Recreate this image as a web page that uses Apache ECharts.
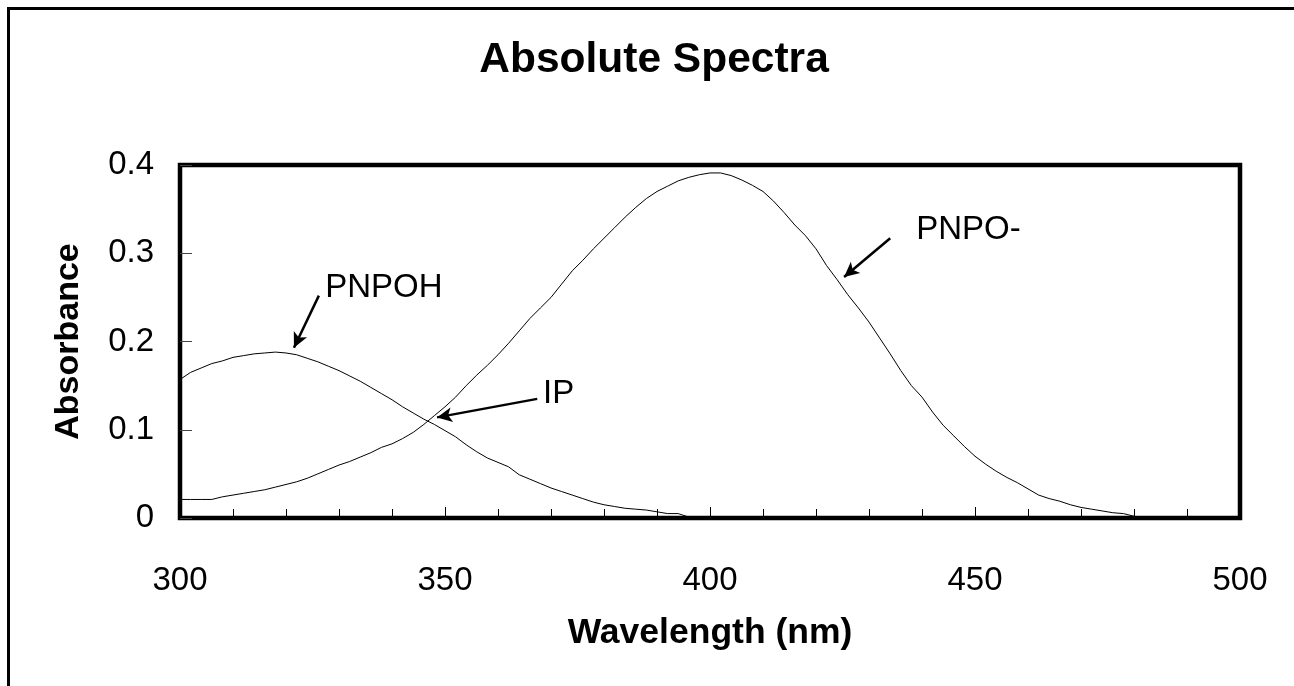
<!DOCTYPE html>
<html>
<head>
<meta charset="utf-8">
<title>Absolute Spectra</title>
<script src="https://cdn.jsdelivr.net/npm/echarts@6/dist/echarts.min.js"></script>
<style>
  html, body { margin: 0; padding: 0; background: #fff; }
  #chart { width: 1294px; height: 686px; }
</style>
</head>
<body>
<div id="chart"></div>
<script>
// Wavelength grid (nm), sampled every 2 nm from 300 to 500
const wavelength = Array.from({ length: 101 }, (_, i) => 300 + 2 * i);

// Absorbance of the protonated form (PNPOH)
const pnpoh = [
  0.157, 0.165, 0.170, 0.175, 0.178, 0.182, 0.184, 0.186, 0.187, 0.188, // 300-318
  0.187, 0.185, 0.181, 0.177, 0.172, 0.167, 0.161, 0.155, 0.148, 0.141, // 320-338
  0.134, 0.126, 0.119, 0.112, 0.106, 0.099, 0.092, 0.083, 0.075, 0.068, // 340-358
  0.063, 0.058, 0.049, 0.044, 0.039, 0.034, 0.030, 0.026, 0.022, 0.018, // 360-378
  0.015, 0.013, 0.011, 0.010, 0.009, 0.007, 0.005, 0.005, 0.001, 0,     // 380-398
  0, 0, 0, 0, 0, 0, 0, 0, 0, 0,                                         // 400-418
  0, 0, 0, 0, 0, 0, 0, 0, 0, 0,                                         // 420-438
  0, 0, 0, 0, 0, 0, 0, 0, 0, 0,                                         // 440-458
  0, 0, 0, 0, 0, 0, 0, 0, 0, 0,                                         // 460-478
  0, 0, 0, 0, 0, 0, 0, 0, 0, 0,                                         // 480-498
  0                                                                     // 500
];

// Absorbance of the deprotonated form (PNPO-)
const pnpoMinus = [
  0.021, 0.021, 0.021, 0.021, 0.024, 0.026, 0.028, 0.030, 0.032, 0.035, // 300-318
  0.038, 0.041, 0.045, 0.050, 0.055, 0.060, 0.064, 0.069, 0.074, 0.080, // 320-338
  0.084, 0.090, 0.097, 0.106, 0.116, 0.126, 0.137, 0.150, 0.162, 0.173, // 340-358
  0.185, 0.198, 0.212, 0.226, 0.238, 0.250, 0.265, 0.280, 0.292, 0.305, // 360-378
  0.317, 0.329, 0.341, 0.352, 0.362, 0.370, 0.376, 0.382, 0.386, 0.389, // 380-398
  0.391, 0.391, 0.388, 0.383, 0.377, 0.370, 0.359, 0.346, 0.332, 0.320, // 400-418
  0.305, 0.286, 0.270, 0.253, 0.238, 0.222, 0.204, 0.186, 0.167, 0.150, // 420-438
  0.137, 0.120, 0.105, 0.093, 0.081, 0.070, 0.061, 0.053, 0.046, 0.040, // 440-458
  0.033, 0.026, 0.022, 0.019, 0.015, 0.012, 0.010, 0.008, 0.006, 0.005, // 460-478
  0.002, 0, 0, 0, 0, 0, 0, 0, 0, 0,                                     // 480-498
  0                                                                     // 500
];

// Callout labels and their arrows, in data units [nm, absorbance]
const noteText = ['PNPOH', 'IP', 'PNPO-'];
const noteAt = [[327.4, 0.2605], [368.5, 0.141], [438.9, 0.327]];
const arrowFrom = [[326.2, 0.252], [367.4, 0.135], [434.0, 0.317]];
const arrowTo = [[321.5, 0.193], [348.5, 0.114], [425.3, 0.273]];

// Axis ticks
const xMin = 300, xMax = 500, xStep = 50;
const yMin = 0, yMax = 0.4, yStep = 0.1;

const FONT = 'Arial, "Liberation Sans", sans-serif';

const chart = echarts.init(document.getElementById('chart'), null, { renderer: 'canvas' });

const pairs = (xs, ys) => xs.map((x, i) => [x, ys[i]]);

chart.setOption({
  animation: false,
  backgroundColor: '#fff',
  textStyle: { fontFamily: FONT, color: '#000' },
  graphic: [
    {
      type: 'rect',
      silent: true,
      shape: { x: 8.5, y: 8.5, width: 1400, height: 1000 },
      style: { fill: 'none', stroke: '#000', lineWidth: 3 }
    },
    {
      type: 'text',
      silent: true,
      x: 654, y: 60,
      style: {
        text: 'Absolute Spectra',
        font: 'bold 42.5px ' + FONT,
        fill: '#000',
        textAlign: 'center',
        textVerticalAlign: 'middle'
      }
    }
  ],
  grid: {
    left: 180, right: 54, top: 165, bottom: 168,
    show: true,
    borderColor: '#000',
    borderWidth: 4.5,
    backgroundColor: 'transparent'
  },
  xAxis: {
    type: 'value',
    min: xMin, max: xMax, interval: xStep,
    name: 'Wavelength (nm)',
    nameLocation: 'middle',
    nameGap: 97,
    nameTextStyle: { fontFamily: FONT, fontWeight: 'bold', fontSize: 35.5, color: '#000' },
    axisLine: { show: false },
    axisTick: { show: true, inside: true, length: 11, lineStyle: { color: '#000', width: 1 } },
    minorTick: { show: true, splitNumber: 5, length: 9, lineStyle: { color: '#000', width: 1 } },
    splitLine: { show: false },
    axisLabel: { fontFamily: FONT, fontSize: 33, color: '#000', margin: 46 }
  },
  yAxis: {
    type: 'value',
    min: yMin, max: yMax, interval: yStep,
    name: 'Absorbance',
    nameLocation: 'middle',
    nameRotate: 90,
    nameGap: 94,
    nameTextStyle: { fontFamily: FONT, fontWeight: 'bold', fontSize: 34, color: '#000' },
    axisLine: { show: false },
    axisTick: { show: true, inside: true, length: 12, lineStyle: { color: '#444', width: 1 } },
    splitLine: { show: false },
    axisLabel: {
      fontFamily: FONT, fontSize: 33, color: '#000', margin: 26,
      formatter: v => (v === 0 ? '0' : v.toFixed(1))
    }
  },
  series: [
    {
      name: 'PNPOH',
      type: 'line',
      data: pairs(wavelength, pnpoh),
      showSymbol: false,
      lineStyle: { color: '#000', width: 1 },
      z: 3
    },
    {
      name: 'PNPO-',
      type: 'line',
      data: pairs(wavelength, pnpoMinus),
      showSymbol: false,
      lineStyle: { color: '#000', width: 1 },
      z: 3,
      markLine: {
        silent: true,
        symbol: ['none', 'arrow'],
        symbolSize: [11, 15],
        label: { show: false },
        lineStyle: { color: '#000', width: 2.5, type: 'solid', opacity: 1 },
        data: arrowFrom.map((p, i) => [{ coord: p }, { coord: arrowTo[i] }])
      }
    },
    {
      name: 'callouts',
      type: 'scatter',
      symbolSize: 0,
      itemStyle: { opacity: 1 },
      data: noteText.map((t, i) => ({ name: t, value: noteAt[i] })),
      label: {
        show: true,
        position: 'right',
        distance: 0,
        formatter: '{b}',
        fontFamily: FONT,
        fontSize: 33,
        color: '#000'
      },
      z: 4
    }
  ]
});
</script>
</body>
</html>
